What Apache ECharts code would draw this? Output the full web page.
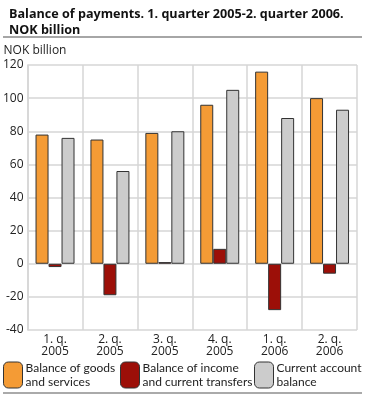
<!DOCTYPE html>
<html><head><meta charset="utf-8">
<script src="https://cdn.jsdelivr.net/npm/echarts@6/dist/echarts.min.js"></script>
<style>html,body{margin:0;padding:0;background:#fff}#c{width:365px;height:395px}</style>
</head><body><div id="c"></div>
<script>
var categories = ['1. q.\n2005','2. q.\n2005','3. q.\n2005','4. q.\n2005','1. q.\n2006','2. q.\n2006'];
var goods = [78, 75, 79, 96, 116, 100];
var income = [-2, -19, 1, 9, -28, -6];
var current = [76, 56, 80, 105, 88, 93];
var seriesNames = ['Balance of goods\nand services','Balance of income\nand current transfers','Current account\nbalance'];
var colors = ['#f49b35','#9c0f08','#cccccc'];
var FONT = '"Open Sans", "DejaVu Sans", sans-serif';
var LFONT = 'Lato, "Open Sans", sans-serif';
var chart = echarts.init(document.getElementById('c'), null, {renderer:'canvas'});
function legendAt(i, left){
  return {data:[seriesNames[i]], left:left, top:361, itemWidth:19, itemHeight:26, itemGap:0,
    textStyle:{fontFamily:LFONT, fontSize:12, color:'#222', lineHeight:14, padding:[0,0,0,-2]},
    itemStyle:{borderColor:'#333', borderWidth:1}, selectedMode:false, padding:0};
}
chart.setOption({
  animation:false,
  color:colors,
  title:{text:'Balance of payments. 1. quarter 2005-2. quarter 2006.\nNOK billion', left:4, top:1,
    textStyle:{fontFamily:FONT, fontSize:12.6, fontWeight:'bold', color:'#111', lineHeight:16}},
  legend:[legendAt(0,3), legendAt(1,120), legendAt(2,254)],
  graphic:[
    {type:'line', shape:{x1:3,y1:37,x2:362,y2:37}, style:{stroke:'#888', lineWidth:1.5}},
    {type:'line', shape:{x1:3,y1:393,x2:362,y2:393}, style:{stroke:'#aaa', lineWidth:2}}
  ],
  grid:{left:26, right:8, top:65, bottom:65},
  xAxis:{type:'category', data:categories, boundaryGap:true,
    axisLine:{show:false}, axisTick:{show:false},
    splitLine:{show:true, lineStyle:{color:'#d6d6d6', width:1.5}},
    axisLabel:{fontFamily:FONT, fontSize:12, color:'#222', lineHeight:12, margin:4, interval:0}},
  yAxis:{type:'value', min:-40, max:120, interval:20,
    name:'NOK billion', nameLocation:'end', nameGap:8,
    nameTextStyle:{fontFamily:FONT, fontSize:12, color:'#222', align:'left', padding:[0,0,0,-24]},
    axisLine:{show:true, lineStyle:{color:'#d6d6d6', width:1.5}}, axisTick:{show:false},
    splitLine:{show:true, lineStyle:{color:'#d6d6d6', width:1.5}},
    axisLabel:{fontFamily:FONT, fontSize:12, color:'#222', margin:4}},
  series:[
    {name:seriesNames[0], type:'bar', data:goods, barGap:'0%', barCategoryGap:'29%', itemStyle:{borderColor:'#333', borderWidth:1}},
    {name:seriesNames[1], type:'bar', data:income, barGap:'0%', barCategoryGap:'29%', itemStyle:{borderColor:'#333', borderWidth:1}},
    {name:seriesNames[2], type:'bar', data:current, barGap:'0%', barCategoryGap:'29%', itemStyle:{borderColor:'#333', borderWidth:1}}
  ]
});
</script></body></html>
